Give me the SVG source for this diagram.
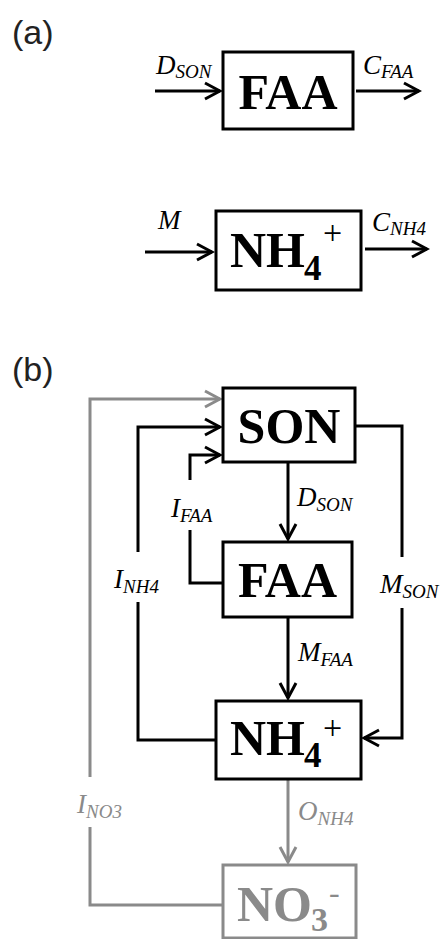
<svg xmlns="http://www.w3.org/2000/svg" width="443" height="939" viewBox="0 0 443 939">
<style>
.bg{fill:#fff}
.box{fill:#fff;stroke:#000;stroke-width:3}
.gbox{fill:#fff;stroke:#8a8a8a;stroke-width:3}
.ln{fill:none;stroke:#000;stroke-width:3}
.gln{fill:none;stroke:#8a8a8a;stroke-width:3}
.big{font-family:"Liberation Serif","Times New Roman",serif;font-weight:bold;font-size:50px;fill:#000}
.gbig{font-family:"Liberation Serif","Times New Roman",serif;font-weight:bold;font-size:50px;fill:#8a8a8a}
.lab{font-family:"Liberation Serif","Times New Roman",serif;font-style:italic;font-size:27px;fill:#000}
.glab{font-family:"Liberation Serif","Times New Roman",serif;font-style:italic;font-size:27px;fill:#8a8a8a}
.sub{font-size:19px}
.panel{font-family:"Liberation Sans",Arial,sans-serif;font-size:34px;fill:#222}
</style>
<defs>
<marker id="ah" markerUnits="userSpaceOnUse" markerWidth="20" markerHeight="20" refX="0" refY="0" viewBox="-17 -10 20 20" orient="auto">
<path d="M-15,-8 L0,0 L-15,8" fill="none" stroke="#000" stroke-width="3"/>
</marker>
<marker id="gah" markerUnits="userSpaceOnUse" markerWidth="20" markerHeight="20" refX="0" refY="0" viewBox="-17 -10 20 20" orient="auto">
<path d="M-15,-8 L0,0 L-15,8" fill="none" stroke="#8a8a8a" stroke-width="3"/>
</marker>
</defs>
<rect class="bg" x="0" y="0" width="443" height="939"/>
<text class="panel" x="12" y="44">(a)</text>
<text class="panel" x="12" y="381">(b)</text>

<g id="connectors">
<line class="ln" x1="155" y1="91" x2="220" y2="91" marker-end="url(#ah)"/>
<line class="ln" x1="356" y1="91" x2="419" y2="91" marker-end="url(#ah)"/>
<line class="ln" x1="145" y1="252" x2="212" y2="252" marker-end="url(#ah)"/>
<line class="ln" x1="365" y1="249" x2="427" y2="249" marker-end="url(#ah)"/>

<path class="gln" d="M223,905 H90 V827"/>
<path class="gln" d="M90,777 V399 H220" marker-end="url(#gah)"/>
<path class="ln" d="M216,740 H138 V602"/>
<path class="ln" d="M138,552 V427 H220" marker-end="url(#ah)"/>
<path class="ln" d="M223,583 H190 V530"/>
<path class="ln" d="M190,480 V455 H220" marker-end="url(#ah)"/>
<line class="ln" x1="288" y1="462" x2="288" y2="539" marker-end="url(#ah)"/>
<path class="ln" d="M355,426 H402 V557"/>
<path class="ln" d="M402,608 V738 H364" marker-end="url(#ah)"/>
<line class="ln" x1="288" y1="617" x2="288" y2="698" marker-end="url(#ah)"/>
<line class="gln" x1="288" y1="779" x2="288" y2="862" marker-end="url(#gah)"/>

<text class="lab" x="156" y="74">D<tspan class="sub" dy="4">SON</tspan></text>
<text class="lab" x="363" y="74">C<tspan class="sub" dy="4">FAA</tspan></text>
<text class="lab" x="158" y="229">M</text>
<text class="lab" x="372" y="231">C<tspan class="sub" dy="4">NH4</tspan></text>

<text class="glab" x="77" y="813">I<tspan class="sub" dy="5">NO3</tspan></text>
<text class="lab" x="114" y="588">I<tspan class="sub" dy="5">NH4</tspan></text>
<text class="lab" x="171" y="517">I<tspan class="sub" dy="5">FAA</tspan></text>
<text class="lab" x="297" y="506">D<tspan class="sub" dy="5">SON</tspan></text>
<text class="lab" x="380" y="593">M<tspan class="sub" dy="5">SON</tspan></text>
<text class="lab" x="298" y="661">M<tspan class="sub" dy="5">FAA</tspan></text>
<text class="glab" x="298" y="820">O<tspan class="sub" dy="5">NH4</tspan></text>
</g>

<g id="a-faa">
<rect class="box" x="223" y="52" width="130" height="77"/>
<text class="big" x="288" y="109" text-anchor="middle">FAA</text>
</g>
<g id="a-nh4">
<rect class="box" x="216" y="211" width="145" height="79"/>
<text class="big" x="230" y="267">NH</text>
<text class="big" x="304" y="280" style="font-size:35px">4</text>
<text class="big" x="323" y="244" style="font-size:34px;font-weight:normal">+</text>
</g>

<g id="son">
<rect class="box" x="223" y="388" width="132" height="74"/>
<text class="big" x="289" y="443" text-anchor="middle">SON</text>
</g>
<g id="faa">
<rect class="box" x="223" y="542" width="129" height="75"/>
<text class="big" x="287.5" y="597" text-anchor="middle">FAA</text>
</g>
<g id="nh4">
<rect class="box" x="216" y="701" width="145" height="78"/>
<text class="big" x="230" y="755">NH</text>
<text class="big" x="304" y="767" style="font-size:35px">4</text>
<text class="big" x="323" y="739" style="font-size:34px;font-weight:normal">+</text>
</g>
<g id="no3">
<rect class="gbox" x="223" y="865" width="133" height="73"/>
<text class="gbig" x="237" y="921">NO</text>
<text class="gbig" x="311" y="931" style="font-size:34px">3</text>
<text class="gbig" x="329" y="903" style="font-size:32px;font-weight:normal">-</text>
</g>
</svg>
